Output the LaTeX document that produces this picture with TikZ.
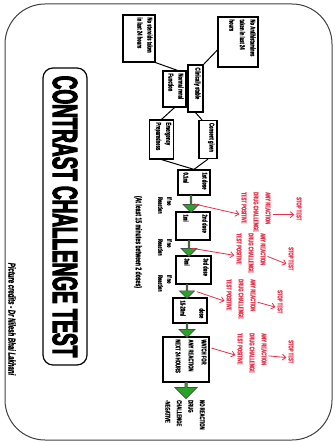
\documentclass[tikz,border=0pt]{standalone}
\usepackage{fontspec}
\usepackage{graphicx}
\usetikzlibrary{shapes.arrows,arrows.meta,calc}
\newfontfamily\cfb[FakeStretch=0.6, FakeBold=1.5]{Liberation Sans Bold}
\newfontfamily\cfbi[FakeStretch=0.6, FakeBold=1.5]{Liberation Sans Bold Italic}
\newfontfamily\tf[FakeStretch=0.54, FakeBold=3]{Liberation Sans Bold}
\definecolor{rd}{RGB}{232,48,72}
\definecolor{gr}{RGB}{40,165,40}
% box text: #1 image width, #2 image length, #3 baselineskip, #4 text
\newcommand{\bx}[4]{\rotatebox{-90}{\parbox[c][#1pt][t]{#2pt}{\fontsize{7}{#3}\selectfont\raggedright #4}}}
% free text: #1 size, #2 baselineskip, #3 length, #4 text
\newcommand{\rtf}[4]{\rotatebox{-90}{\parbox{#3pt}{\fontsize{#1}{#2}\selectfont\raggedright #4}}}
\begin{document}
\begin{tikzpicture}[x=1pt,y=-1pt,
 box/.style={draw, line width=1.2pt, fill=white, inner sep=2.5pt, font=\cfb},
 garrow/.style={single arrow, draw=black!70, fill=gr, line width=0.7pt, shape border rotate=270, inner sep=0pt, single arrow head extend=3pt},
 redtxt/.style={text=rd, font=\cfb, inner sep=0pt, anchor=north},
 blktxt/.style={font=\cfb, inner sep=0pt, anchor=north},
 lbl/.style={font=\cfb, inner sep=0pt, anchor=north},
 ra/.style={draw=rd, line width=0.8pt, -{Straight Barb[length=3.5pt,width=6pt]}, shorten <=2pt, shorten >=2pt},
 conn/.style={line width=1pt},
 titlebox/.style={draw, line width=1.2pt, rounded corners=10pt, inner sep=0pt},
 frame/.style={draw=black!75, line width=1pt, rounded corners=40pt}
]
\useasboundingbox (0,0) rectangle (334,443);
\path[frame] (5,4) rectangle (332,440);

\node[titlebox, minimum width=44, minimum height=297] (title) at (65,216.5)
  {\rotatebox{-90}{\tf\fontsize{35}{35}\selectfont CONTRAST CHALLENGE TEST}};
\node[inner sep=0pt] (cred) at (12,319)
  {\rotatebox{-90}{\cfbi\fontsize{10}{10}\selectfont Picture credits - Dr Nilesh Bhai Lakhani}};

% pre-conditions
\node[box] (A) at (238,42) {\bx{35}{45}{10.5}{No Antihistamines\\taken in last 24\\hours}};
\node[box] (B) at (139,38.5) {\bx{27}{42}{10}{No steroids taken\\in last 24 hours}};
\node[box] (C) at (195.5,88.5) {\bx{10}{42}{8}{Clinically stable}};
\node[box] (D) at (174.5,89) {\bx{18}{31}{10}{Normal renal\\Function}};
\node[box] (E) at (161.5,139.5) {\bx{19}{34}{10}{Emergency\\Preparedness}};
\node[box] (F) at (208,139.5) {\bx{13}{33}{8}{Consent given}};

% doses
\node[box] (n1) at (194,182.5) {\bx{27}{20}{19}{1st dose\\0.1ml}};
\node[box] (n2) at (193,226) {\bx{29}{23}{19}{2nd dose\\1ml}};
\node[box] (n3) at (193.5,270) {\bx{30}{23}{19}{3rd dose\\3ml}};
\node[box] (n4) at (190,310.5) {\bx{29}{20}{19}{\hspace*{8pt}dose\\15-20ml}};
\node[box] (W) at (186,359.5) {\bx{41}{40}{13}{WATCH FOR\\ANY REACTION\\NEXT 24 HOURS}};

% green arrows
\node[garrow, minimum width=16, minimum height=17] (g1) at (191,203.5) {};
\node[garrow, minimum width=16, minimum height=16] (g2) at (189,248) {};
\node[garrow, minimum width=15, minimum height=14] (g3) at (187,291) {};
\node[garrow, minimum width=16, minimum height=14] (g4) at (187,330) {};
\node[garrow, minimum width=22, minimum height=16] (g5) at (186,390) {};

\node[blktxt] (res) at (185,400) {\rtf{7}{11.5}{45}{NO REACTION\\DRUG\\CHALLENGE\\-NEGATIVE}};

% if no reaction labels
\node[lbl] (l1) at (165,197) {\rtf{6.5}{9}{25}{If no\\Reaction}};
\node[lbl] (l2) at (165,239) {\rtf{6.5}{9}{25}{If no\\Reaction}};
\node[lbl] (l3) at (165,275) {\rtf{6.5}{9}{25}{If no\\Reaction}};
\node[inner sep=0pt, font=\cfb] (gap) at (138,242) {\rotatebox{-90}{\fontsize{8.5}{9}\selectfont (At least 15 minutes between 2 doses)}};

% red reaction texts
\node[redtxt] (r1) at (256,192) {\rtf{7}{12}{45}{ANY REACTION\\DRUG CHALLENGE\\TEST POSITIVE}};
\node[redtxt] (r2) at (251,233) {\rtf{7}{12}{45}{ANY REACTION\\DRUG CHALLENGE\\TEST POSITIVE}};
\node[redtxt] (r3) at (241,279) {\rtf{7}{12}{45}{ANY REACTION\\DRUG CHALLENGE\\TEST POSITIVE}};
\node[redtxt] (r4) at (252,333) {\rtf{7}{12}{45}{ANY REACTION\\DRUG CHALLENGE\\TEST POSITIVE}};
\node[redtxt] (s1) at (299,197) {\rtf{7}{12}{35}{STOP TEST}};
\node[redtxt] (s2) at (291,247) {\rtf{7}{12}{35}{STOP TEST}};
\node[redtxt] (s3) at (280,290) {\rtf{7}{12}{35}{STOP TEST}};
\node[redtxt] (s4) at (291,340) {\rtf{7}{12}{35}{STOP TEST}};

% black connectors
\draw[conn] ([yshift=-8pt]A.west) -- (C.north east);
\draw[conn] (B.south east) -- ([xshift=3pt]D.north);
\draw[conn] (D.south) -- (E.north);
\draw[conn] (C.south) -- ([xshift=-6pt]F.north);
\draw[conn] (E.south) -- (n1.north);
\draw[conn] (F.south) -- (n1.north);

% red arrows
\draw[ra] (g1.east) -- (r1.west);
\draw[ra] (g2.east) -- (r2.west);
\draw[ra] (g3.east) -- (r3.west);
\draw[ra] ([yshift=12pt]W.east) -- (r4.west);
\draw[ra] (r1.east) -- (s1.west);
\draw[ra] (r2.east) -- (s2.west);
\draw[ra] (r3.east) -- (s3.west);
\draw[ra] (r4.east) -- (s4.west);
\end{tikzpicture}
\end{document}
